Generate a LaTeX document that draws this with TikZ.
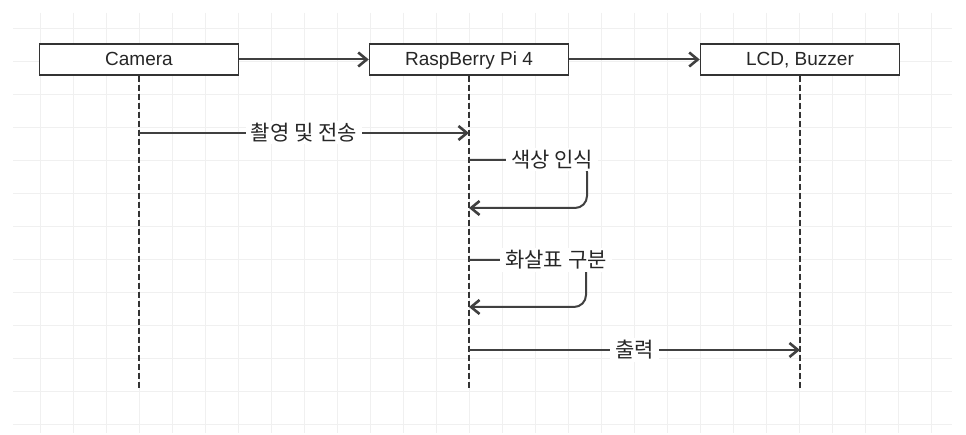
\documentclass[tikz,border=0pt]{standalone}
\usepackage{fontspec}
\setmainfont{Liberation Sans}
\newfontfamily\krfont{Noto Sans CJK KR}
\usetikzlibrary{arrows.meta, positioning}

\begin{document}
\begin{tikzpicture}
	[%
	x=1pt, y=-1pt,%
	gridline/.style ={draw=black!6,	line width=0.8pt},%
	life/.style     ={rectangle,	draw=black!80,	fill=white,	line width=1.5pt,	inner sep=0pt,	minimum width=199pt,	minimum height=31pt,	text height=14pt,	text depth=1pt,	text=black!85,	font=\fontsize{19}{22}\selectfont},%
	lifeline/.style ={draw=black!80,	line width=1.4pt,	dash pattern=on 6pt off 3pt},%
	msg/.style      ={draw=black!75,	line width=2pt,	-{Straight Barb[length=8.5pt, width=14pt, line width=2.6pt]}},%
	msglabel/.style ={fill=white,	inner xsep=5pt,	inner ysep=2pt,	text=black!85,	font=\krfont\fontsize{21}{25}\selectfont},%
	]

	\newcommand\lend{390}

	% background
	\useasboundingbox (0,0) rectangle (966,435);
	\fill [white] (0,0) rectangle (966,435);
	\foreach \x in {40,73,...,950} \draw [gridline] (\x,13) -- (\x,433);
	\foreach \y in {28,61,...,433} \draw [gridline] (13,\y) -- (952,\y);

	% nodes
	% lifelines
	\foreach \n/\x in {camera/139, rpi/469, lcd/800}
		\coordinate (\n end) at (\x,\lend);
	\foreach \n/\x/\t in {camera/139/Camera, rpi/469/RaspBerry Pi 4, lcd/800/{LCD, Buzzer}}
		\node (\n) at (\x,59.5) [life] {\t};
	\foreach \n in {camera, rpi, lcd}
		\draw [lifeline] (\n) -- (\n end);
	% message ends
	\foreach \n/\x/\y in {	camera m1/139/133, rpi m1/469/133, rpi s1/469/160, rpi r1/469/208, %
												rpi s2/469/260, rpi r2/469/307, rpi m3/469/350, lcd m3/800/350 %
												}
		\coordinate (\n) at (\x,\y);

	% interconnections
	% box to box
	\draw [msg] (camera) -- (rpi);
	\draw [msg] (rpi) -- (lcd);

	% lifeline to lifeline
	\draw [msg] (camera m1) -- (rpi m1) node (shoot) [midway, msglabel] {촬영 및 전송};
	\draw [msg] (rpi m3) -- (lcd m3) node (output) [midway, msglabel] {출력};

	% self messages
	\draw [msg, rounded corners=12pt] (rpi s1) -| ++(118,48) -- (rpi r1);
	\node (colour) at (552,160) [msglabel] {색상 인식};
	\draw [msg, rounded corners=12pt] (rpi s2) -| ++(117,47) -- (rpi r2);
	\node (arrowsort) at (556,260) [msglabel] {화살표 구분};

\end{tikzpicture}
\end{document}
